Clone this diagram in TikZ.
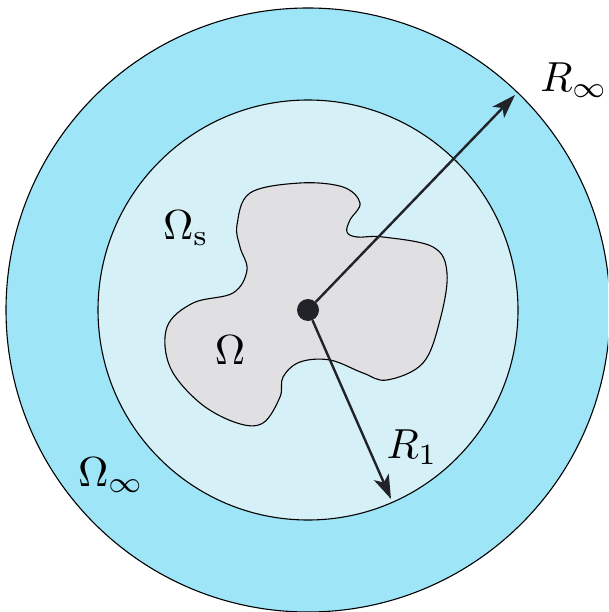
\documentclass[tikz,border=0pt]{standalone}
\usetikzlibrary{arrows.meta}
\definecolor{outerc}{RGB}{158,229,247}
\definecolor{innerc}{RGB}{213,240,247}
\definecolor{blobc}{RGB}{224,224,226}
\definecolor{darkc}{RGB}{33,35,40}
\begin{document}
\begin{tikzpicture}[x=1pt,y=-1pt,
  lbl/.style={scale=4.2, inner sep=0pt},
  radarrow/.style={draw=darkc, line width=2.4pt, -{Stealth[length=24pt,width=16pt,inset=6pt]}},
  ring/.style={draw=black, line width=1.1pt}]
\useasboundingbox (0,0) rectangle (608,612);
\begin{scope}
\clip (0,0) rectangle (608,612);
\fill[outerc] (308,310) circle[radius=302pt];
\draw[ring] (308,310) circle[radius=302pt];
\end{scope}
\filldraw[fill=innerc, ring] (308,310) circle[radius=210pt];
\filldraw[fill=blobc, draw=black, line width=1.1pt] plot[smooth cycle, tension=0.6] coordinates {
 (250,193) (300,183) (343,187) (360,203) (350,220) (347,232) (357,237)
 (383,237) (433,247) (447,273) (440,320) (423,363) (387,380) (363,373)
 (330,360) (300,362) (283,377) (280,397) (263,423) (237,423) (200,403)
 (170,367) (167,327) (193,303) (233,293) (247,270) (240,247) (237,225)};
\node[circle, fill=darkc, minimum size=22pt, inner sep=0pt] (c) at (308,310) {};
\coordinate (rinf) at (515,95);
\coordinate (rone) at (391,499);
\draw[radarrow] (c) -- (rinf);
\draw[radarrow] (c) -- (rone);
\node[lbl] (Os) at (186,228) {$\Omega_{\mathrm{s}}$};
\node[lbl] (O) at (230,350) {$\Omega$};
\node[lbl] (Oinf) at (111,475) {$\Omega_\infty$};
\node[lbl] (Rinf) at (574,80) {$R_\infty$};
\node[lbl] (Rone) at (412,447) {$R_1$};
\end{tikzpicture}
\end{document}
